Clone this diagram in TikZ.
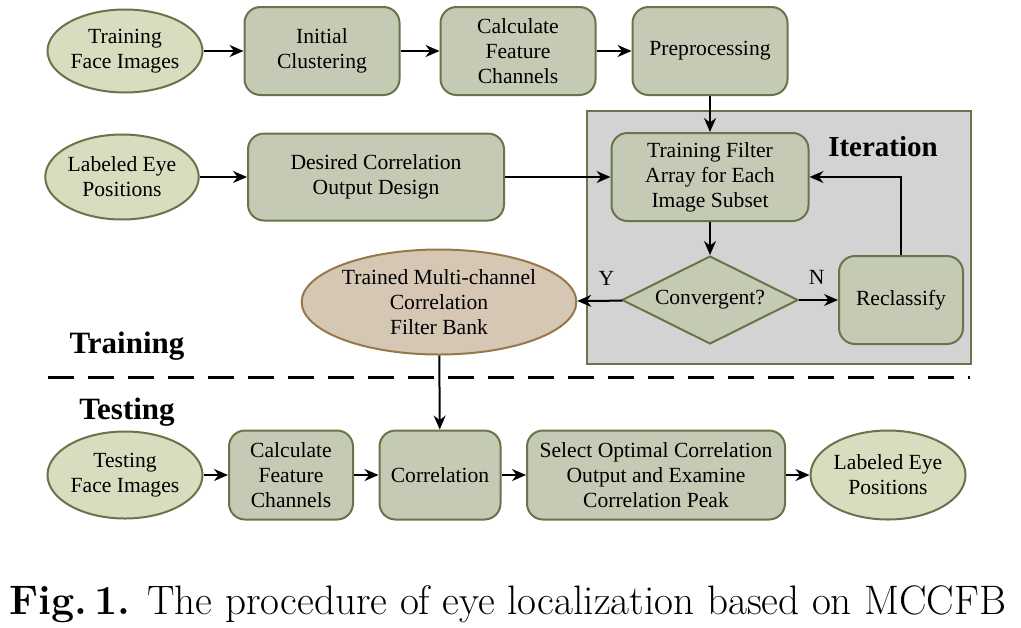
\documentclass[tikz,border=0pt]{standalone}
\usepackage{fontspec}
\newfontfamily\diagfont{Liberation Serif}
\usetikzlibrary{positioning,shapes.geometric,arrows.meta}

\definecolor{boxfill}{RGB}{197,202,181}
\definecolor{boxline}{RGB}{104,116,74}
\definecolor{ellfill}{RGB}{215,221,190}
\definecolor{bankfill}{RGB}{214,199,181}
\definecolor{bankline}{RGB}{150,120,75}
\definecolor{iterfill}{RGB}{211,211,211}

\tikzset{
  procbox/.style={draw=boxline, fill=boxfill, line width=1pt, rounded corners=8pt,
    align=center, inner sep=2pt},
  dataell/.style={ellipse, draw=boxline, fill=ellfill, line width=1pt,
    align=center, inner sep=0pt},
  decide/.style={diamond, draw=boxline, fill=boxfill, line width=1pt,
    align=center, inner sep=0pt, aspect=2},
  flow/.style={-{Stealth[length=7pt,width=6pt]}, line width=1pt},
  phase/.style={font=\diagfont\fontsize{15.5}{17}\selectfont\bfseries},
}

\begin{document}
\begin{tikzpicture}[x=0.5pt, y=-0.5pt, font=\diagfont\fontsize{10.8}{12.5}\selectfont]
    \useasboundingbox (0,0) rectangle (1021,627);
    % iteration frame in the background
    \node[draw=boxline, fill=iterfill, line width=1pt, minimum width=192pt,
      minimum height=126.5pt, inner sep=0pt] (iter) at (779,237.5) {};
    \node[phase, font=\diagfont\fontsize{14.5}{17}\selectfont\bfseries] (itertext)
      at (883,147) {Iteration};

    % training chain, top row
    \node[dataell, minimum width=77.5pt, minimum height=41.5pt] (trimg) at (125,51)
      {Training\\Face Images};
    \node[procbox, minimum width=77.5pt, minimum height=44pt] (clust) at (322,51)
      {Initial\\Clustering};
    \node[procbox, minimum width=77.5pt, minimum height=44pt] (featA) at (518,51)
      {Calculate\\Feature\\Channels};
    \node[procbox, minimum width=77.5pt, minimum height=44pt] (prep) at (710,51)
      {Preprocessing};

    % second row
    \node[dataell, minimum width=73.5pt, minimum height=42.5pt] (eyepos) at (122,177)
      {Labeled Eye\\Positions};
    \node[procbox, minimum width=128pt, minimum height=43.5pt] (design) at (376,177)
      {Desired Correlation\\Output Design};
    \node[procbox, minimum width=98.5pt, minimum height=44pt] (trfilt) at (710,177)
      {Training Filter\\Array for Each\\Image Subset};

    % decision and loop
    \node[decide, minimum width=88pt, minimum height=44pt] (conv) at (710,300)
      {Convergent?};
    \node[procbox, minimum width=62pt, minimum height=44pt] (recl) at (901,300)
      {Reclassify};
    \node[ellipse, draw=bankline, fill=bankfill, line width=1pt, align=center,
      inner sep=0pt, minimum width=127pt, minimum height=52.5pt] (bank) at (439,302)
      {Trained Multi-channel\\Correlation\\Filter Bank};

    % phase labels and separator
    \node[phase] (trlabel) at (127,346) {Training};
    \node[phase] (telabel) at (127,412) {Testing};
    \coordinate (sepL) at (48,377);
    \coordinate (sepR) at (970,377);
    \draw[dash pattern=on 13pt off 7pt, line width=1.5pt] (sepL) -- (sepR);

    % testing chain
    \node[dataell, minimum width=77.5pt, minimum height=43.5pt] (teimg) at (125,475)
      {Testing\\Face Images};
    \node[procbox, minimum width=62pt, minimum height=44.5pt] (featB) at (291,475)
      {Calculate\\Feature\\Channels};
    \node[procbox, minimum width=60.5pt, minimum height=44.5pt] (corr) at (440,475)
      {Correlation};
    \node[procbox, minimum width=129pt, minimum height=44.5pt] (select) at (656,475)
      {Select Optimal Correlation\\Output and Examine\\Correlation Peak};
    \node[dataell, minimum width=77.5pt, minimum height=44.5pt] (outpos) at (888,475)
      {Labeled Eye\\Positions};

    % connectors
    \draw[flow] (trimg) -- (clust);
    \draw[flow] (clust) -- (featA);
    \draw[flow] (featA) -- (prep);
    \draw[flow] (prep) -- (trfilt);
    \draw[flow] (eyepos) -- (design);
    \draw[flow] (design) -- (trfilt);
    \draw[flow] (trfilt) -- (conv);
    \draw[flow] (conv) -- node[above, pos=0.45, yshift=4pt] {N} (recl);
    \draw[flow] (recl.north) |- (trfilt.east);
    \draw[flow] (conv) -- node[above, pos=0.35, yshift=4pt] {Y} (bank);
    \draw[flow] (bank) -- (corr);
    \draw[flow] (teimg) -- (featB);
    \draw[flow] (featB) -- (corr);
    \draw[flow] (corr) -- (select);
    \draw[flow] (select) -- (outpos);

    % caption
    \node[font=\fontsize{20.6}{24}\selectfont, anchor=base] (caption) at (508,614)
      {\textbf{Fig.\,1.} The procedure of eye localization based on MCCFB};
\end{tikzpicture}
\end{document}
